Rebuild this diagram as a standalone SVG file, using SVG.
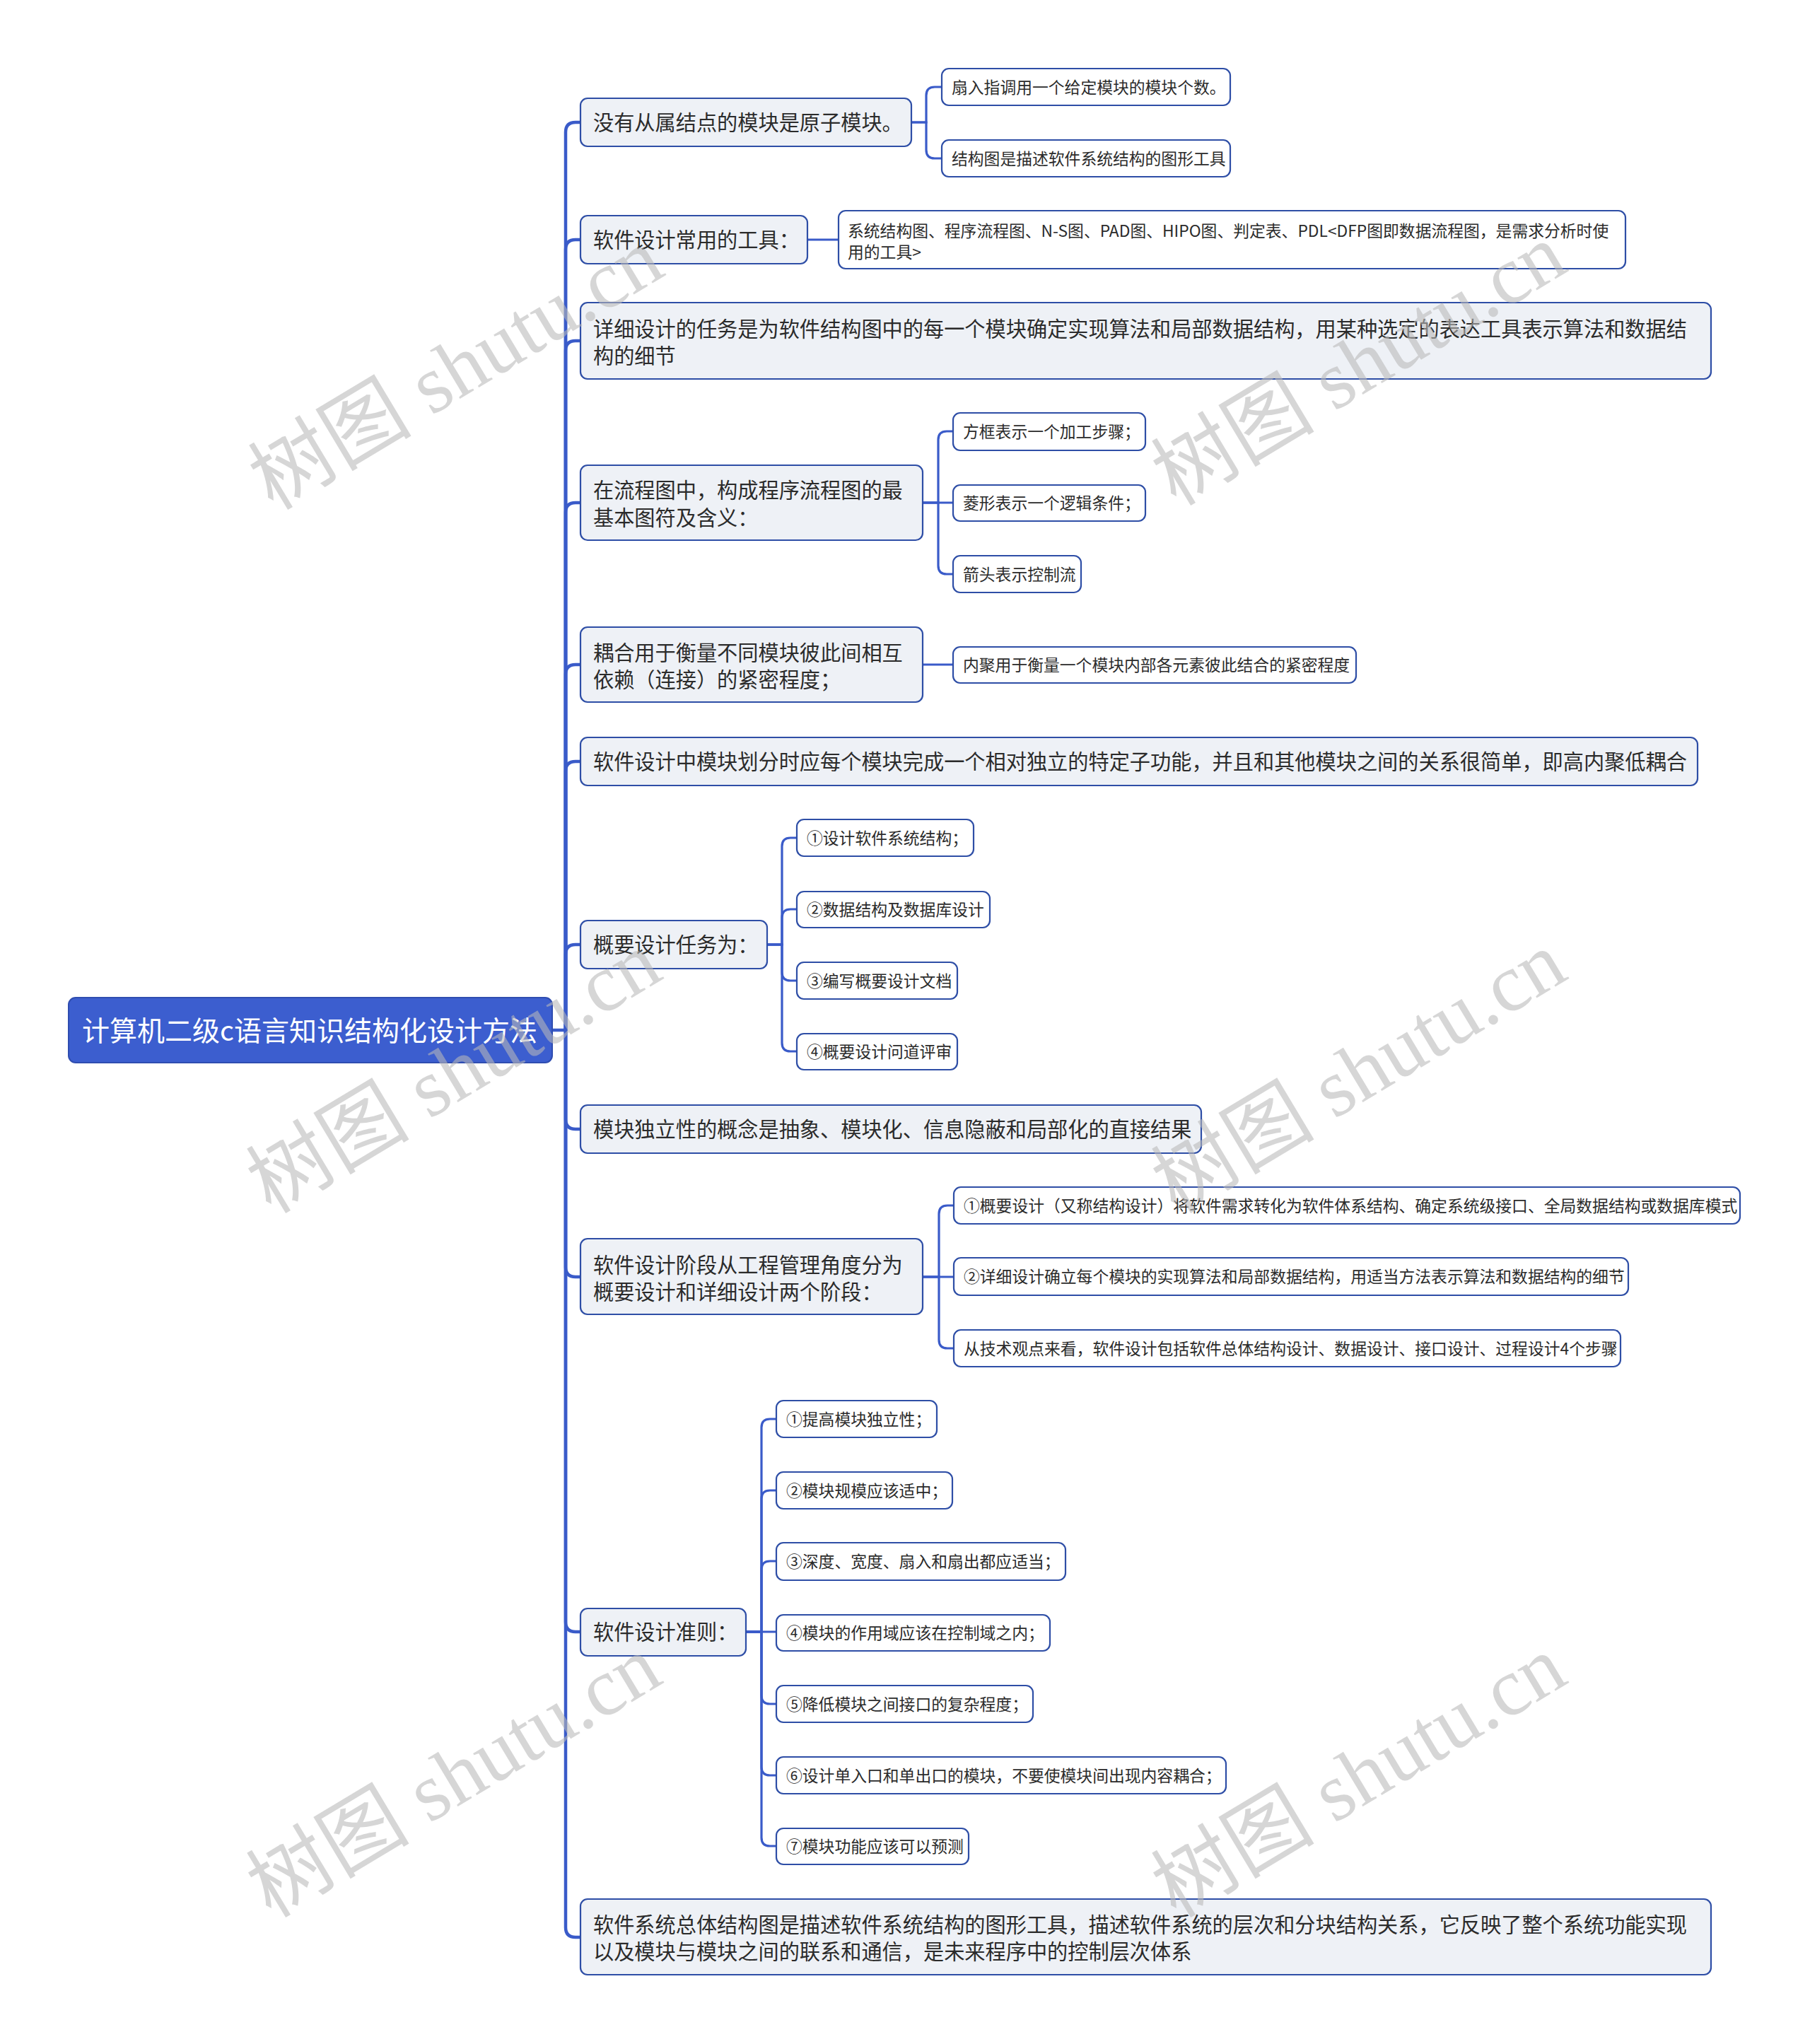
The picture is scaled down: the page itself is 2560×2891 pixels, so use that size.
<svg xmlns="http://www.w3.org/2000/svg" width="2560" height="2891" viewBox="0 0 2560 2891">
<style>
text{font-family:"Noto Sans CJK SC","Noto Sans",sans-serif;dominant-baseline:central}
.l1 rect{fill:#eef1f6;stroke:#2e4ea6;stroke-width:2.2}
.l2 rect{fill:#ffffff;stroke:#2e4ea6;stroke-width:2.2}
.l1 text{font-size:29.2px;fill:#2b2b2b}
.l2 text{font-size:22.8px;fill:#2b2b2b}
.trunk{fill:none;stroke:#3a5bc9;stroke-width:4.5;stroke-linecap:round}
.sub{fill:none;stroke:#3a5bc9;stroke-width:3.2;stroke-linecap:round}
.wm{font-family:"Liberation Serif","Noto Sans CJK SC",serif;font-size:116px;fill:#b8b8b8;fill-opacity:0.58;text-anchor:middle}
</style>
<rect width="2560" height="2891" fill="#ffffff"/>
<g id="connectors">
<path class="trunk" d="M781,1457 H800"/>
<path class="trunk" d="M800,1457 V187 Q800,173 814,173 H822"/>
<path class="trunk" d="M800,1457 V353 Q800,339 814,339 H822"/>
<path class="trunk" d="M800,1457 V496 Q800,482 814,482 H822"/>
<path class="trunk" d="M800,1457 V725 Q800,711 814,711 H822"/>
<path class="trunk" d="M800,1457 V954 Q800,940 814,940 H822"/>
<path class="trunk" d="M800,1457 V1091 Q800,1077 814,1077 H822"/>
<path class="trunk" d="M800,1457 V1350 Q800,1336 814,1336 H822"/>
<path class="trunk" d="M800,1457 V1583 Q800,1597 814,1597 H822"/>
<path class="trunk" d="M800,1457 V1792 Q800,1806 814,1806 H822"/>
<path class="trunk" d="M800,1457 V2294 Q800,2308 814,2308 H822"/>
<path class="trunk" d="M800,1457 V2726 Q800,2740 814,2740 H822"/>
<path class="sub" d="M1289,173 H1310 V135 Q1310,123 1322,123 H1332"/>
<path class="sub" d="M1289,173 H1310 V212 Q1310,224 1322,224 H1332"/>
<path class="sub" d="M1142,339 H1186"/>
<path class="sub" d="M1305,711 H1327 V622 Q1327,610 1339,610 H1348"/>
<path class="sub" d="M1305,711 H1348"/>
<path class="sub" d="M1305,711 H1327 V800 Q1327,812 1339,812 H1348"/>
<path class="sub" d="M1305,940 H1348"/>
<path class="sub" d="M1085,1336 H1106 V1197 Q1106,1185 1118,1185 H1127"/>
<path class="sub" d="M1085,1336 H1106 V1298 Q1106,1286 1118,1286 H1127"/>
<path class="sub" d="M1085,1336 H1106 V1375 Q1106,1387 1118,1387 H1127"/>
<path class="sub" d="M1085,1336 H1106 V1475 Q1106,1487 1118,1487 H1127"/>
<path class="sub" d="M1305,1806 H1328 V1717 Q1328,1705 1340,1705 H1349"/>
<path class="sub" d="M1305,1806 H1349"/>
<path class="sub" d="M1305,1806 H1328 V1895 Q1328,1907 1340,1907 H1349"/>
<path class="sub" d="M1055,2308 H1077 V2019 Q1077,2007 1089,2007 H1098"/>
<path class="sub" d="M1055,2308 H1077 V2120 Q1077,2108 1089,2108 H1098"/>
<path class="sub" d="M1055,2308 H1077 V2220 Q1077,2208 1089,2208 H1098"/>
<path class="sub" d="M1055,2308 H1098"/>
<path class="sub" d="M1055,2308 H1077 V2398 Q1077,2410 1089,2410 H1098"/>
<path class="sub" d="M1055,2308 H1077 V2499 Q1077,2511 1089,2511 H1098"/>
<path class="sub" d="M1055,2308 H1077 V2599 Q1077,2611 1089,2611 H1098"/>
</g>
<g id="root">
<rect x="97" y="1411" width="684" height="92" rx="10" fill="#3c5ecf" stroke="#2f4db0" stroke-width="2"/>
<text x="116" y="1455" font-size="39" fill="#ffffff">计算机二级c语言知识结构化设计方法</text>
</g>
<g id="n1" class="l1"><rect x="821" y="139" width="468" height="68" rx="10"/><text x="839" y="171">没有从属结点的模块是原子模块。</text></g>
<g id="n1a" class="l2"><rect x="1332" y="97" width="408" height="52" rx="10"/><text x="1346" y="122">扇入指调用一个给定模块的模块个数。</text></g>
<g id="n1b" class="l2"><rect x="1332" y="198" width="408" height="52" rx="10"/><text x="1346" y="223">结构图是描述软件系统结构的图形工具</text></g>
<g id="n2" class="l1"><rect x="821" y="305" width="321" height="68" rx="10"/><text x="839" y="337">软件设计常用的工具：</text></g>
<g id="n2a" class="l2"><rect x="1186" y="298" width="1113" height="82" rx="10"/><text x="1199" y="325">系统结构图、程序流程图、N-S图、PAD图、HIPO图、判定表、PDL&lt;DFP图即数据流程图，是需求分析时使</text><text x="1199" y="355">用的工具&gt;</text></g>
<g id="n3" class="l1"><rect x="821" y="428" width="1599" height="108" rx="10"/><text x="839" y="463">详细设计的任务是为软件结构图中的每一个模块确定实现算法和局部数据结构，用某种选定的表达工具表示算法和数据结</text><text x="839" y="501">构的细节</text></g>
<g id="n4" class="l1"><rect x="821" y="658" width="484" height="106" rx="10"/><text x="839" y="691">在流程图中，构成程序流程图的最</text><text x="839" y="730">基本图符及含义：</text></g>
<g id="n4a" class="l2"><rect x="1348" y="584" width="272" height="53" rx="10"/><text x="1362" y="609">方框表示一个加工步骤；</text></g>
<g id="n4b" class="l2"><rect x="1348" y="686" width="272" height="51" rx="10"/><text x="1362" y="710">菱形表示一个逻辑条件；</text></g>
<g id="n4c" class="l2"><rect x="1348" y="786" width="181" height="52" rx="10"/><text x="1362" y="811">箭头表示控制流</text></g>
<g id="n5" class="l1"><rect x="821" y="887" width="484" height="106" rx="10"/><text x="839" y="921">耦合用于衡量不同模块彼此间相互</text><text x="839" y="959">依赖（连接）的紧密程度；</text></g>
<g id="n5a" class="l2"><rect x="1348" y="915" width="570" height="51" rx="10"/><text x="1362" y="939">内聚用于衡量一个模块内部各元素彼此结合的紧密程度</text></g>
<g id="n6" class="l1"><rect x="821" y="1043" width="1580" height="68" rx="10"/><text x="839" y="1075">软件设计中模块划分时应每个模块完成一个相对独立的特定子功能，并且和其他模块之间的关系很简单，即高内聚低耦合</text></g>
<g id="n7" class="l1"><rect x="821" y="1302" width="264" height="68" rx="10"/><text x="839" y="1334">概要设计任务为：</text></g>
<g id="n7a" class="l2"><rect x="1127" y="1159" width="250" height="52" rx="10"/><text x="1141" y="1184">①设计软件系统结构；</text></g>
<g id="n7b" class="l2"><rect x="1127" y="1261" width="273" height="51" rx="10"/><text x="1141" y="1285">②数据结构及数据库设计</text></g>
<g id="n7c" class="l2"><rect x="1127" y="1361" width="227" height="52" rx="10"/><text x="1141" y="1386">③编写概要设计文档</text></g>
<g id="n7d" class="l2"><rect x="1127" y="1462" width="227" height="51" rx="10"/><text x="1141" y="1486">④概要设计问道评审</text></g>
<g id="n8" class="l1"><rect x="821" y="1563" width="878" height="68" rx="10"/><text x="839" y="1595">模块独立性的概念是抽象、模块化、信息隐蔽和局部化的直接结果</text></g>
<g id="n9" class="l1"><rect x="821" y="1752" width="484" height="107" rx="10"/><text x="839" y="1787">软件设计阶段从工程管理角度分为</text><text x="839" y="1825">概要设计和详细设计两个阶段：</text></g>
<g id="n9a" class="l2"><rect x="1349" y="1679" width="1112" height="52" rx="10"/><text x="1363" y="1704">①概要设计（又称结构设计）将软件需求转化为软件体系结构、确定系统级接口、全局数据结构或数据库模式</text></g>
<g id="n9b" class="l2"><rect x="1349" y="1779" width="954" height="53" rx="10"/><text x="1363" y="1804">②详细设计确立每个模块的实现算法和局部数据结构，用适当方法表示算法和数据结构的细节</text></g>
<g id="n9c" class="l2"><rect x="1349" y="1881" width="943" height="52" rx="10"/><text x="1363" y="1906">从技术观点来看，软件设计包括软件总体结构设计、数据设计、接口设计、过程设计4个步骤</text></g>
<g id="n10" class="l1"><rect x="821" y="2275" width="234" height="67" rx="10"/><text x="839" y="2306">软件设计准则：</text></g>
<g id="n10a" class="l2"><rect x="1098" y="1981" width="227" height="52" rx="10"/><text x="1112" y="2006">①提高模块独立性；</text></g>
<g id="n10b" class="l2"><rect x="1098" y="2082" width="249" height="52" rx="10"/><text x="1112" y="2107">②模块规模应该适中；</text></g>
<g id="n10c" class="l2"><rect x="1098" y="2182" width="409" height="53" rx="10"/><text x="1112" y="2207">③深度、宽度、扇入和扇出都应适当；</text></g>
<g id="n10d" class="l2"><rect x="1098" y="2284" width="387" height="51" rx="10"/><text x="1112" y="2308">④模块的作用域应该在控制域之内；</text></g>
<g id="n10e" class="l2"><rect x="1098" y="2384" width="363" height="52" rx="10"/><text x="1112" y="2409">⑤降低模块之间接口的复杂程度；</text></g>
<g id="n10f" class="l2"><rect x="1098" y="2485" width="636" height="52" rx="10"/><text x="1112" y="2510">⑥设计单入口和单出口的模块，不要使模块间出现内容耦合；</text></g>
<g id="n10g" class="l2"><rect x="1098" y="2586" width="272" height="51" rx="10"/><text x="1112" y="2610">⑦模块功能应该可以预测</text></g>
<g id="n11" class="l1"><rect x="821" y="2686" width="1599" height="107" rx="10"/><text x="839" y="2720">软件系统总体结构图是描述软件系统结构的图形工具，描述软件系统的层次和分块结构关系，它反映了整个系统功能实现</text><text x="839" y="2758">以及模块与模块之间的联系和通信，是未来程序中的控制层次体系</text></g>
<g id="watermark">
<text class="wm" transform="translate(645,522) rotate(-31)">树图 shutu.cn</text>
<text class="wm" transform="translate(1922,516) rotate(-31)">树图 shutu.cn</text>
<text class="wm" transform="translate(642,1517) rotate(-31)">树图 shutu.cn</text>
<text class="wm" transform="translate(1922,1517) rotate(-31)">树图 shutu.cn</text>
<text class="wm" transform="translate(642,2513) rotate(-31)">树图 shutu.cn</text>
<text class="wm" transform="translate(1922,2513) rotate(-31)">树图 shutu.cn</text>
</g>
</svg>
